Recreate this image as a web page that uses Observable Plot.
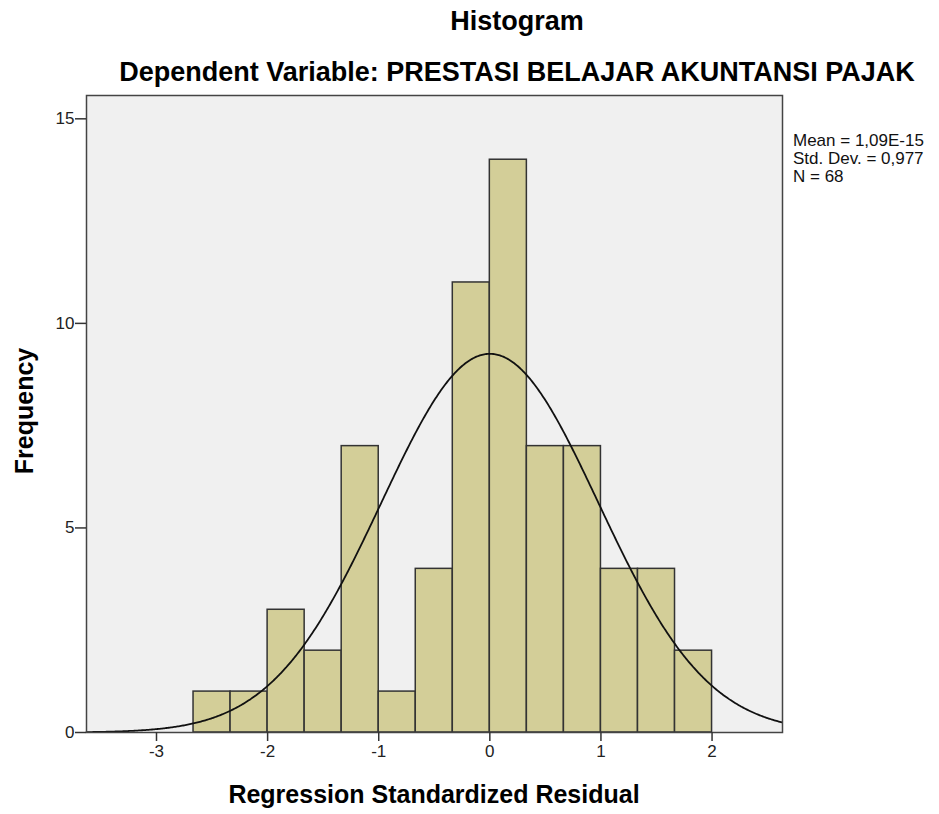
<!DOCTYPE html>
<html><head><meta charset="utf-8">
<script src="https://cdn.jsdelivr.net/npm/d3@7"></script>
<script src="https://cdn.jsdelivr.net/npm/@observablehq/plot@0.6"></script>
<style>
body{margin:0;background:#fff;font-family:"Liberation Sans",Arial,sans-serif;}
#wrap{position:relative;width:939px;height:814px;}
.t{position:absolute;white-space:nowrap;color:#000;}
</style></head><body>
<div id="wrap">
<div id="chart"></div>
<div class="t" style="left:0;width:1034px;text-align:center;top:8px;font-size:27px;line-height:27px;font-weight:bold;">Histogram</div>
<div class="t" style="left:0;width:1034px;text-align:center;top:59px;font-size:27px;line-height:27px;font-weight:bold;">Dependent Variable: PRESTASI BELAJAR AKUNTANSI PAJAK</div>
<div class="t" id="stats" style="left:793px;top:132px;font-size:17px;line-height:18px;color:#111;"></div>
<div class="t" style="left:0;width:868px;text-align:center;top:782px;font-size:25px;line-height:25px;font-weight:bold;">Regression Standardized Residual</div>
<div class="t" style="left:24px;top:411px;font-size:25px;line-height:25px;font-weight:bold;transform:translate(-50%,-50%) rotate(-90deg);">Frequency</div>
</div>
<script>
const binStart = [-8/3,-7/3,-2,-5/3,-4/3,-1,-2/3,-1/3,0,1/3,2/3,1,4/3,5/3];
const binWidth = 1/3;
const counts = [1,1,3,2,7,1,4,11,14,7,7,4,4,2];
const xTicks = [-3,-2,-1,0,1,2];
const yTicks = [0,5,10,15];
const mean = 1.09e-15, sd = 0.977, N = 68;
const statLines = ["Mean = 1,09E-15","Std. Dev. = 0,977","N = 68"];

document.getElementById("stats").innerHTML = statLines.join("<br>");

const bins = binStart.map((b,i)=>({x1:b, x2:b+binWidth, y:counts[i]}));
const xDom = [-3.63, 2.634];
const yDom = [0, 15.57];
const curve = d3.range(xDom[0], xDom[1]+0.001, 0.01).map(x=>({x, y: N*binWidth*Math.exp(-0.5*((x-mean)/sd)**2)/(sd*Math.sqrt(2*Math.PI))}));

const chart = Plot.plot({
  width: 939, height: 814,
  marginLeft: 86, marginRight: 157, marginTop: 95, marginBottom: 82,
  style: {fontFamily: '"Liberation Sans",Arial,sans-serif', fontSize: "17px", color:"#222", background:"transparent"},
  x: {domain: xDom, label: null},
  y: {domain: yDom, label: null},
  marks: [
    Plot.rect([0], {x1: xDom[0], x2: xDom[1], y1: yDom[0], y2: yDom[1], fill: "#f0f0f0"}),
    Plot.rectY(bins, {x1:"x1", x2:"x2", y:"y", fill:"#d3ce98", stroke:"#333", strokeWidth:1.5, inset:0}),
    Plot.line(curve, {x:"x", y:"y", stroke:"#111", strokeWidth:1.8}),
    Plot.frame({stroke:"#444", strokeWidth:1.5}),
    Plot.axisX({ticks: xTicks, tickSize: 9, tickPadding: 3, tickFormat: d=>String(d), label:null, stroke:"#333", strokeWidth:1.5, fontSize:17}),
    Plot.axisY({ticks: yTicks, tickSize: 11, tickPadding: 1, label:null, stroke:"#333", strokeWidth:1.5, fontSize:17})
  ]
});
chart.style.position="absolute"; chart.style.left="0"; chart.style.top="0";
document.getElementById("chart").appendChild(chart);
</script>
</body></html>
